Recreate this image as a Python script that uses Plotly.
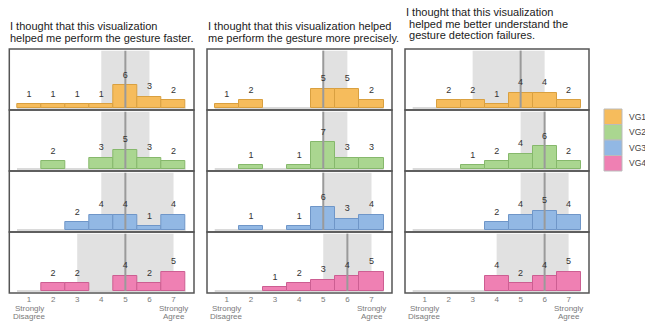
import plotly.graph_objects as go

W, H = 645, 326

categories = [1, 2, 3, 4, 5, 6, 7]
tick_text = ["1", "2", "3", "4", "5", "6", "7"]
end_labels = [(1, "Strongly", "Disagree"), (7, "Strongly", "Agree")]
groups = ["VG1", "VG2", "VG3", "VG4"]
fill_colors = ["#F6BC5C", "#AAD690", "#92B8E4", "#EF80B3"]
edge_colors = ["#D9A040", "#86B86C", "#6F96C8", "#CC5E92"]

title_lines = [
    ["I thought that this visualization", "helped me perform the gesture faster."],
    ["I thought that this visualization helped", "me perform the gesture more precisely."],
    ["I thought that this visualization", "\u00a0helped me better understand the", "\u00a0gesture detection failures."],
]

# counts per rating 1..7
faster_VG1 = [1, 1, 1, 1, 6, 3, 2]
faster_VG2 = [0, 2, 0, 3, 5, 3, 2]
faster_VG3 = [0, 0, 2, 4, 4, 1, 4]
faster_VG4 = [0, 2, 2, 0, 4, 2, 5]

precise_VG1 = [1, 2, 0, 0, 5, 5, 2]
precise_VG2 = [0, 1, 0, 1, 7, 3, 3]
precise_VG3 = [0, 1, 0, 1, 6, 3, 4]
precise_VG4 = [0, 0, 1, 2, 3, 4, 5]

failures_VG1 = [0, 2, 2, 1, 4, 4, 2]
failures_VG2 = [0, 0, 1, 2, 4, 6, 2]
failures_VG3 = [0, 0, 0, 2, 4, 5, 4]
failures_VG4 = [0, 0, 0, 4, 2, 4, 5]

# interquartile range (q1, q3) and median per group
faster_iqr = [(4, 6), (4, 6), (4, 7), (3, 7)]
faster_median = [5, 5, 5, 5]
precise_iqr = [(5, 6), (5, 6), (5, 7), (5, 7)]
precise_median = [5, 5, 5, 6]
failures_iqr = [(3, 6), (5, 6), (5, 7), (4, 7)]
failures_median = [5, 6, 6, 6]

questions = [
    ([faster_VG1, faster_VG2, faster_VG3, faster_VG4], faster_iqr, faster_median),
    ([precise_VG1, precise_VG2, precise_VG3, precise_VG4], precise_iqr, precise_median),
    ([failures_VG1, failures_VG2, failures_VG3, failures_VG4], failures_iqr, failures_median),
]

# layout in pixels
panel_x = [(9.3, 194), (207, 392), (405, 589)]
title_line_y = [[26, 38], [26, 38], [12, 23.5, 35]]
row_top = [49, 110, 171, 232]
row_h = 61
x_range = [0.18, 7.85]
y_range = [-0.53, 15.53]
band_top = 15.1
FONT = "Liberation Sans, Arial"

def px_x(x):
    return x / W

def px_y(y):
    return 1 - y / H

fig = go.Figure()
shapes = []
annotations = []
layout_axes = {}

for c, (counts_list, iqrs, medians) in enumerate(questions):
    for r in range(4):
        idx = c * 4 + r + 1
        xa = "x" if idx == 1 else f"x{idx}"
        ya = "y" if idx == 1 else f"y{idx}"
        counts = counts_list[r]
        fig.add_trace(go.Bar(
            x=categories,
            y=[v if v > 0 else None for v in counts],
            width=1.0,
            marker=dict(color=fill_colors[r], line=dict(color=edge_colors[r], width=1)),
            xaxis=xa, yaxis=ya, showlegend=False, hoverinfo="skip",
        ))
        # median line
        fig.add_trace(go.Scatter(
            x=[medians[r], medians[r]], y=[0, band_top], mode="lines",
            line=dict(color="#9A9A9A", width=2),
            xaxis=xa, yaxis=ya, showlegend=False, hoverinfo="skip",
        ))
        # count labels (invisible markers give the text a small offset above the bar)
        nz = [(k, v) for k, v in zip(categories, counts) if v > 0]
        fig.add_trace(go.Scatter(
            x=[k for k, v in nz], y=[v for k, v in nz], text=[str(v) for k, v in nz],
            mode="markers+text", textposition="top center",
            marker=dict(size=7, opacity=0),
            textfont=dict(size=9, color="#333333", family=FONT),
            cliponaxis=False,
            xaxis=xa, yaxis=ya, showlegend=False, hoverinfo="skip",
        ))
        x0, x1 = panel_x[c]
        top = row_top[r]
        bot = top + row_h
        xkey = "xaxis" if idx == 1 else f"xaxis{idx}"
        ykey = "yaxis" if idx == 1 else f"yaxis{idx}"
        layout_axes[xkey] = dict(
            domain=[px_x(x0), px_x(x1)], range=x_range, anchor=ya,
            showgrid=False, zeroline=False, showline=False,
            tickmode="array", tickvals=categories,
            ticktext=tick_text if r == 3 else None,
            showticklabels=(r == 3), ticks="",
            tickfont=dict(size=8, color="#7a7a7a", family=FONT),
        )
        layout_axes[ykey] = dict(
            domain=[px_y(bot), px_y(top)], range=y_range, anchor=xa,
            showgrid=False, zeroline=False, showline=False, showticklabels=False,
        )
        q1, q3 = iqrs[r]
        shapes.append(dict(type="rect", xref=xa, yref=ya, x0=q1, x1=q3, y0=0, y1=band_top,
                           fillcolor="#E1E1E1", line=dict(width=0), layer="below"))
        shapes.append(dict(type="line", xref=xa, yref=ya, x0=0.5, x1=7.5, y0=0, y1=0,
                           line=dict(color="#DADADA", width=2), layer="below"))
        shapes.append(dict(type="rect", xref="paper", yref="paper",
                           x0=px_x(x0), x1=px_x(x1), y0=px_y(bot), y1=px_y(top),
                           line=dict(color="#555555", width=1.5), fillcolor="rgba(0,0,0,0)"))
        if r == 3:
            for xv, l1, l2 in end_labels:
                for txt, ly in ((l1, 308.5), (l2, 316.5)):
                    annotations.append(dict(text=txt, xref=xa, yref="paper", x=xv, y=px_y(ly),
                                            xanchor="center", yanchor="middle", showarrow=False,
                                            font=dict(size=8, color="#7a7a7a", family=FONT)))
    # title lines
    for line, ly in zip(title_lines[c], title_line_y[c]):
        annotations.append(dict(text=line, xref="paper", yref="paper",
                                x=px_x(panel_x[c][0] - 1), y=px_y(ly),
                                xanchor="left", yanchor="middle", align="left", showarrow=False,
                                font=dict(size=11, color="#222222", family=FONT)))

# legend
leg_x0, leg_x1 = 604, 622
leg_top, leg_h = 109, 15.5
for i, g in enumerate(groups):
    t = leg_top + i * leg_h
    shapes.append(dict(type="rect", xref="paper", yref="paper",
                       x0=px_x(leg_x0), x1=px_x(leg_x1), y0=px_y(t + leg_h), y1=px_y(t),
                       fillcolor=fill_colors[i], line=dict(color="#BBBBBB", width=1)))
    annotations.append(dict(text=g, xref="paper", yref="paper", x=px_x(627), y=px_y(t + leg_h / 2),
                            xanchor="left", yanchor="middle", showarrow=False,
                            font=dict(size=8.5, color="#444444", family=FONT)))

fig.update_layout(
    width=W, height=H, autosize=False,
    margin=dict(l=0, r=0, t=0, b=0),
    paper_bgcolor="white", plot_bgcolor="white",
    shapes=shapes, annotations=annotations,
    bargap=0, showlegend=False,
    **layout_axes,
)

fig.write_html("out.html", config={"displayModeBar": False},
               post_script="document.body.style.margin='0';document.body.style.overflow='hidden';")
